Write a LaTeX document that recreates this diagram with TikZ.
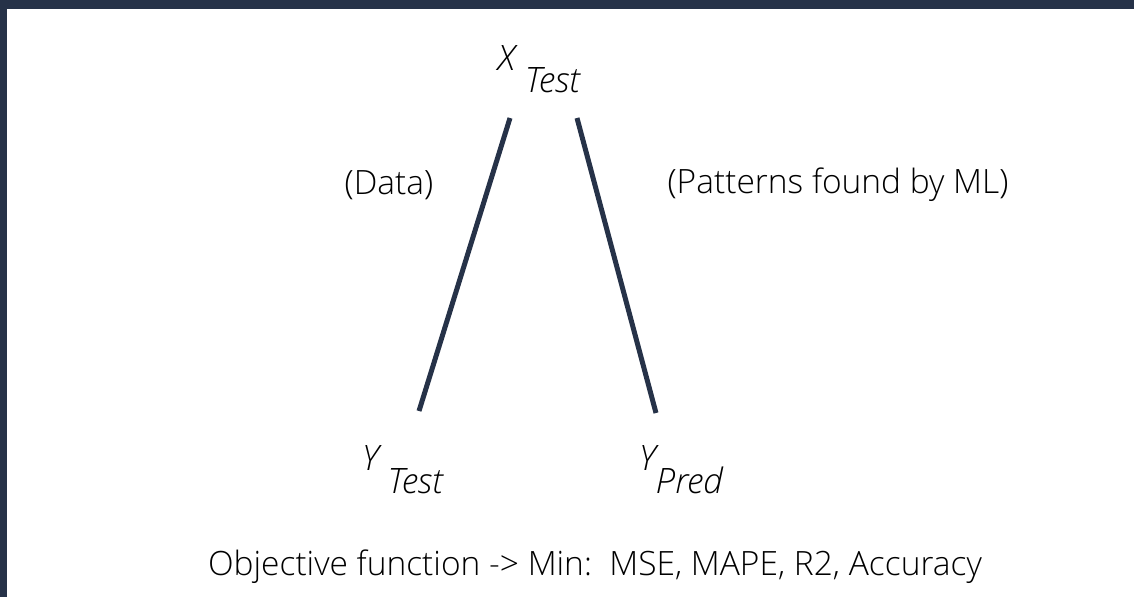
\documentclass[tikz,border=0pt]{standalone}
\usepackage{fontspec}
\IfFontExistsTF{Open Sans Light}{\setmainfont{Open Sans Light}[ItalicFont={Open Sans Light Italic}]}{\setmainfont{Open Sans}}
\definecolor{navy}{HTML}{263248}
\begin{document}
\begin{tikzpicture}[x=1pt,y=-1pt,
  lbl/.style={inner sep=0pt,text=black,font=\fontsize{33.5}{40}\selectfont},
  var/.style={inner sep=0pt,text=black,font=\fontsize{35}{40}\selectfont\itshape},
  edge/.style={navy,line width=5pt}]
\useasboundingbox (0,0) rectangle (1134,597);
\fill[navy] (0,0) rectangle (1134,9);
\fill[navy] (0,0) rectangle (7,597);
\node[var,anchor=base west] (xt) at (498,70) {X\hspace{10pt}\raisebox{-22pt}{Test}};
\node[var,anchor=base west] (yt) at (362,470) {Y\hspace{9pt}\raisebox{-23pt}{Test}};
\node[var,anchor=base west] (yp) at (639,470) {Y\hspace{0pt}\raisebox{-23pt}{Pred}};
\coordinate (l1) at (510,118);
\coordinate (l2) at (419,411);
\coordinate (r1) at (577,118);
\coordinate (r2) at (656,413);
\draw[edge] (l1) -- (l2);
\draw[edge] (r1) -- (r2);
\node[lbl] (data) at (389,185) {(Data)};
\node[lbl] (pat) at (838,185) {(Patterns found by ML)};
\node[lbl] (obj) at (595,567) {Objective function -> Min:\ \ MSE, MAPE, R2, Accuracy};
\end{tikzpicture}
\end{document}
